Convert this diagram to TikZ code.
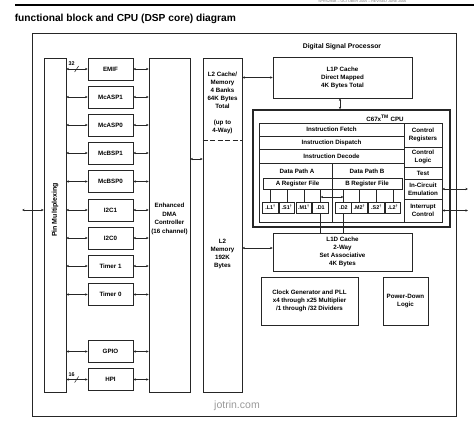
\documentclass[tikz,border=0pt]{standalone}
\usepackage{fontspec}
\setmainfont{Liberation Sans}
\usetikzlibrary{arrows.meta}
\newcommand\dsplbl{\fontsize{6.2}{8}\selectfont\bfseries}
\newcommand\dspunit{\fontsize{5.4}{6}\selectfont\bfseries}
\begin{document}
\begin{tikzpicture}[x=1pt,y=-1pt,
  >={Stealth[length=2.6pt,width=2.4pt]},
  line width=0.6pt, black!85,
  blk/.style={draw=black!85, line width=0.75pt, inner sep=0pt, align=center, font=\dsplbl, text=black},
  lbl/.style={inner sep=0pt, align=center, font=\dsplbl, text=black},
  unitbox/.style={draw=black!85, line width=0.7pt, inner sep=0pt, font=\dspunit, text=black, minimum width=15.5pt, minimum height=11pt},
  per/.style={blk, minimum width=45pt, minimum height=22pt},
  col/.style={blk, minimum width=38pt},
  row/.style={blk, minimum width=145pt, minimum height=13.3pt}
]
\useasboundingbox (0,0) rectangle (474,422);

% header
\node[anchor=west, inner sep=0pt, font=\fontsize{3.6}{4}\selectfont, text=black!55] (hdr) at (318,1) {SPRS294B -- OCTOBER 2005 -- REVISED JUNE 2006};
\draw[line width=2pt, black] (15,5) -- (474,5);
\node[anchor=west, inner sep=0pt, font=\fontsize{10.2}{12}\selectfont\bfseries, text=black] (title) at (14.5,19) {functional block and CPU (DSP core) diagram};

% outer DSP box
\node[blk, minimum width=424pt, minimum height=383pt] (dsp) at (244,224.5) {};
\node[lbl, font=\fontsize{6.8}{8}\selectfont\bfseries] (dsptitle) at (342,47) {Digital Signal Processor};

% pin mux
\node[blk, minimum width=22pt, minimum height=334pt] (pinmux) at (55,225) {};
\node[lbl, rotate=90, font=\fontsize{7}{8}\selectfont\bfseries] (pinlbl) at (55,210) {Pin Multiplexing};
\coordinate (pinin) at (22,210);
\draw[<->] (pinin) -- (pinin -| pinmux.west);

% peripherals
\foreach \n/\t/\y in {emif/EMIF/69, mcasp1/McASP1/97, mcasp0/McASP0/125, mcbsp1/McBSP1/153, mcbsp0/McBSP0/181.5, itc1/I2C1/210, itc0/I2C0/238, tim1/Timer 1/266, tim0/Timer 0/294.5, gpio/GPIO/351.5, hpi/HPI/379.5}
  \node[per] (\n) at (110.5,\y) {\t};

% DMA and L2
\node[blk, minimum width=41pt, minimum height=334pt] (dma) at (169.5,225) {};
\node[lbl, font=\fontsize{6.2}{8.6}\selectfont\bfseries] (dmalbl) at (169.5,219) {Enhanced\\DMA\\Controller\\(16 channel)};
\node[blk, minimum width=39pt, minimum height=334pt] (ltwo) at (222.5,225) {};
\node[lbl] (ltwoa) at (222.5,90) {L2 Cache/\\Memory\\4 Banks\\64K Bytes\\Total};
\node[lbl] (ltwob) at (222.5,127) {(up to\\4-Way)};
\node[lbl] (ltwoc) at (222.5,254) {L2\\Memory\\192K\\Bytes};
\coordinate (ltwosplit) at (0,140);
\draw[dashed, dash pattern=on 5pt off 2.5pt, line width=0.9pt] (ltwo.west |- ltwosplit) -- (ltwo.east |- ltwosplit);

% peripheral connectors
\foreach \n in {emif, mcasp1, mcasp0, mcbsp1, mcbsp0, itc1, itc0, tim1, tim0, gpio, hpi} {
  \draw[<->] (pinmux.east |- \n.west) -- (\n.west);
  \draw[<->] (\n.east) -- (\n.east -| dma.west);
}
% bus width marks
\draw ([shift={(-13,3)}]emif.west) -- ++(4,-6);
\node[lbl, font=\fontsize{5.4}{6}\selectfont\bfseries] (w32) at ([shift={(-16,-5)}]emif.west) {32};
\draw ([shift={(-13,3)}]hpi.west) -- ++(4,-6);
\node[lbl, font=\fontsize{5.4}{6}\selectfont\bfseries] (w16) at ([shift={(-16,-5)}]hpi.west) {16};

\coordinate (dmay) at (0,159);
\draw[<->] (dma.east |- dmay) -- (ltwo.west |- dmay);

% L1P
\node[blk, minimum width=139pt, minimum height=41pt] (lonep) at (342.5,77.5) {L1P Cache\\Direct Mapped\\4K Bytes Total};
\draw[<->] (ltwo.east |- lonep.west) -- (lonep.west);

% CPU
\node[blk, line width=1.4pt, minimum width=197pt, minimum height=117pt] (cpu) at (351.5,168.5) {};
\node[lbl] (cpulbl) at (385,118.5) {C67x\textsuperscript{\tiny TM} CPU};
\coordinate (xcpu) at (340,0);
\draw[<->] (lonep.south -| xcpu) -- (cpu.north -| xcpu);

\node[row] (fetch) at (331.5,129.65) {Instruction Fetch};
\node[row] (dispatch) at (331.5,142.95) {Instruction Dispatch};
\node[row] (decode) at (331.5,156.25) {Instruction Decode};
\node[blk, minimum width=73pt, minimum height=59pt] (dpa) at (295.5,192.5) {};
\node[blk, minimum width=72pt, minimum height=59pt] (dpb) at (368,192.5) {};
\node[lbl] (dpal) at (297,171) {Data Path A};
\node[lbl] (dpbl) at (367,171) {Data Path B};
\node[blk, minimum width=69pt, minimum height=11pt] (rega) at (297.5,183.5) {A Register File};
\node[blk, minimum width=70pt, minimum height=11pt] (regb) at (367,183.5) {B Register File};

\node[col, minimum height=24pt] (creg) at (423,135) {Control\\Registers};
\node[col, minimum height=20pt] (clog) at (423,157) {Control\\Logic};
\node[col, minimum height=12pt] (test) at (423,173) {Test};
\node[col, minimum height=20pt] (ice) at (423,189) {In-Circuit\\Emulation};
\node[col, minimum height=23pt] (intc) at (423,210.5) {Interrupt\\Control};

\foreach \n/\t/\x in {lone/.L1\textsuperscript{†}/270.5, sone/.S1\textsuperscript{†}/287, mone/.M1\textsuperscript{†}/304, done/.D1/320.5}
  \node[unitbox] (\n) at (\x,207.5) {\t};
\foreach \n/\t/\x in {dtwo/.D2/343.5, mtwo/.M2\textsuperscript{†}/359.5, stwo/.S2\textsuperscript{†}/376.5, ltwou/.L2\textsuperscript{†}/393}
  \node[unitbox] (\n) at (\x,207.5) {\t};
\foreach \n in {lone, sone, mone, done}
  \draw (\n.north |- rega.south) -- (\n.north);
\foreach \n in {dtwo, mtwo, stwo, ltwou}
  \draw (\n.north |- regb.south) -- (\n.north);
\coordinate (xpath) at (0,197);
\draw[<->] (done.north |- xpath) -- (dtwo.north |- xpath);

% L1D
\node[blk, minimum width=139pt, minimum height=38pt] (loned) at (342.5,252) {L1D Cache\\2-Way\\Set Associative\\4K Bytes};
\draw (done.south) -- (done.south |- loned.north);
\draw (dtwo.south) -- (dtwo.south |- loned.north);
\coordinate (ldy) at (0,248);
\draw[<->] (ltwo.east |- ldy) -- (loned.west |- ldy);

% external CPU signals
\coordinate (iceout) at (468,189);
\coordinate (intout) at (468,210.5);
\draw[<->] (ice.east) -- (iceout);
\draw[<->] (intc.east) -- (intout);

% clock and power-down
\node[blk, minimum width=97pt, minimum height=48pt] (clk) at (309.5,301) {Clock Generator and PLL\\x4 through x25 Multiplier\\/1 through /32 Dividers};
\node[blk, minimum width=45pt, minimum height=48pt] (pwr) at (405.5,301) {Power-Down\\Logic};

% watermark
\node[inner sep=0pt, font=\fontsize{10.5}{12}\selectfont, text=black!40] (wm) at (237,406) {jotrin.com};
\end{tikzpicture}
\end{document}
